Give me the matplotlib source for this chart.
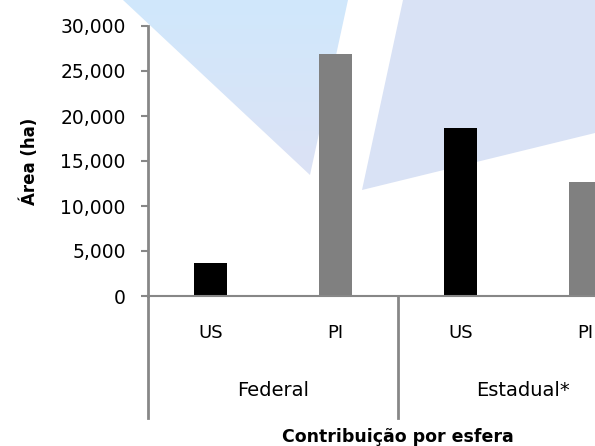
import matplotlib
matplotlib.use("Agg")
import matplotlib.pyplot as plt
import numpy as np
from matplotlib.patches import Polygon
from matplotlib.lines import Line2D
from matplotlib.ticker import FuncFormatter

# Data
groups = ["Federal", "Estadual*"]
categories = ["US", "PI", "US", "PI"]
values = [3700, 26900, 18700, 12700]
bar_colors = ["#000000", "#808080", "#000000", "#808080"]
yticks = [0, 5000, 10000, 15000, 20000, 25000, 30000]

W, H = 595, 446
fig = plt.figure(figsize=(W / 100, H / 100), dpi=100)
fig.patch.set_facecolor("white")

def fp(x, y):
    return (x / W, 1 - y / H)

# Background decorative shapes (watermark), left one with a soft gradient
bg = fig.add_axes([0, 0, 1, 1], zorder=0)
bg.set_xlim(0, 1)
bg.set_ylim(0, 1)
bg.axis("off")
grad = np.linspace(0, 1, 256).reshape(-1, 1)
top_c = np.array([0xd0, 0xe8, 0xfc]) / 255
bot_c = np.array([0xdc, 0xe2, 0xf5]) / 255
img = top_c[None, None, :] * (1 - grad[:, :, None]) + bot_c[None, None, :] * grad[:, :, None]
left_poly = Polygon([fp(123, 0), fp(348, 0), fp(310, 175)], closed=True,
                    transform=bg.transAxes, facecolor="none", edgecolor="none")
bg.add_patch(left_poly)
im = bg.imshow(img, extent=[123 / W, 348 / W, 1 - 175 / H, 1], aspect="auto",
               origin="upper", interpolation="bilinear")
im.set_clip_path(left_poly)
right_poly = Polygon([fp(403, 0), fp(595, 0), fp(595, 133), fp(362, 190)],
                     closed=True, transform=bg.transAxes,
                     facecolor="#d9e2f5", edgecolor="none")
bg.add_patch(right_poly)

ax_left, ax_right, ax_top, ax_bot = 148, 648, 26, 296
ax = fig.add_axes([ax_left / W, 1 - ax_bot / H, (ax_right - ax_left) / W,
                   (ax_bot - ax_top) / H])
ax.patch.set_alpha(0)
ax.set_zorder(1)

x = list(range(len(values)))
ax.bar(x, values, width=0.26, color=bar_colors, zorder=2)

ax.set_xlim(-0.5, len(values) - 0.5)
ax.set_ylim(0, 30000)
ax.set_yticks(yticks)
ax.yaxis.set_major_formatter(FuncFormatter(lambda v, p: f"{int(v):,}"))

spine_c = "#878787"
for s in ["top", "right"]:
    ax.spines[s].set_visible(False)
ax.spines["left"].set_color(spine_c)
ax.spines["left"].set_linewidth(2)
ax.spines["bottom"].set_color(spine_c)
ax.spines["bottom"].set_linewidth(1.5)
ax.tick_params(axis="y", length=5, width=1.5, color=spine_c, labelsize=13.5,
               pad=11, labelcolor="#000000")
ax.set_xticks([])

# category labels
trans = ax.get_xaxis_transform()
for xi, c in zip(x, categories):
    ax.text(xi, -(333 - 296) / 270, c, transform=trans, ha="center",
            va="center", fontsize=13)
for gi, g in enumerate(groups):
    ax.text(gi * 2 + 0.5, -(391 - 296) / 270, g, transform=trans,
            ha="center", va="center", fontsize=14)

# group separator lines
low = -(418 - 296) / 270
for xs in [-0.5, 1.5, 3.5]:
    ax.add_line(Line2D([xs, xs], [0, low], transform=trans, color=spine_c,
                       linewidth=2, clip_on=False))

ax.text(0.5, -(437 - 296) / 270, "Contribuição por esfera", transform=ax.transAxes,
        ha="center", va="center", fontsize=12.5, fontweight="bold")
ax.set_ylabel("Área (ha)", fontsize=12, fontweight="bold")
ax.yaxis.set_label_coords(-(148 - 39) / 500, 0.5)

fig.savefig("out.png", dpi=100)
